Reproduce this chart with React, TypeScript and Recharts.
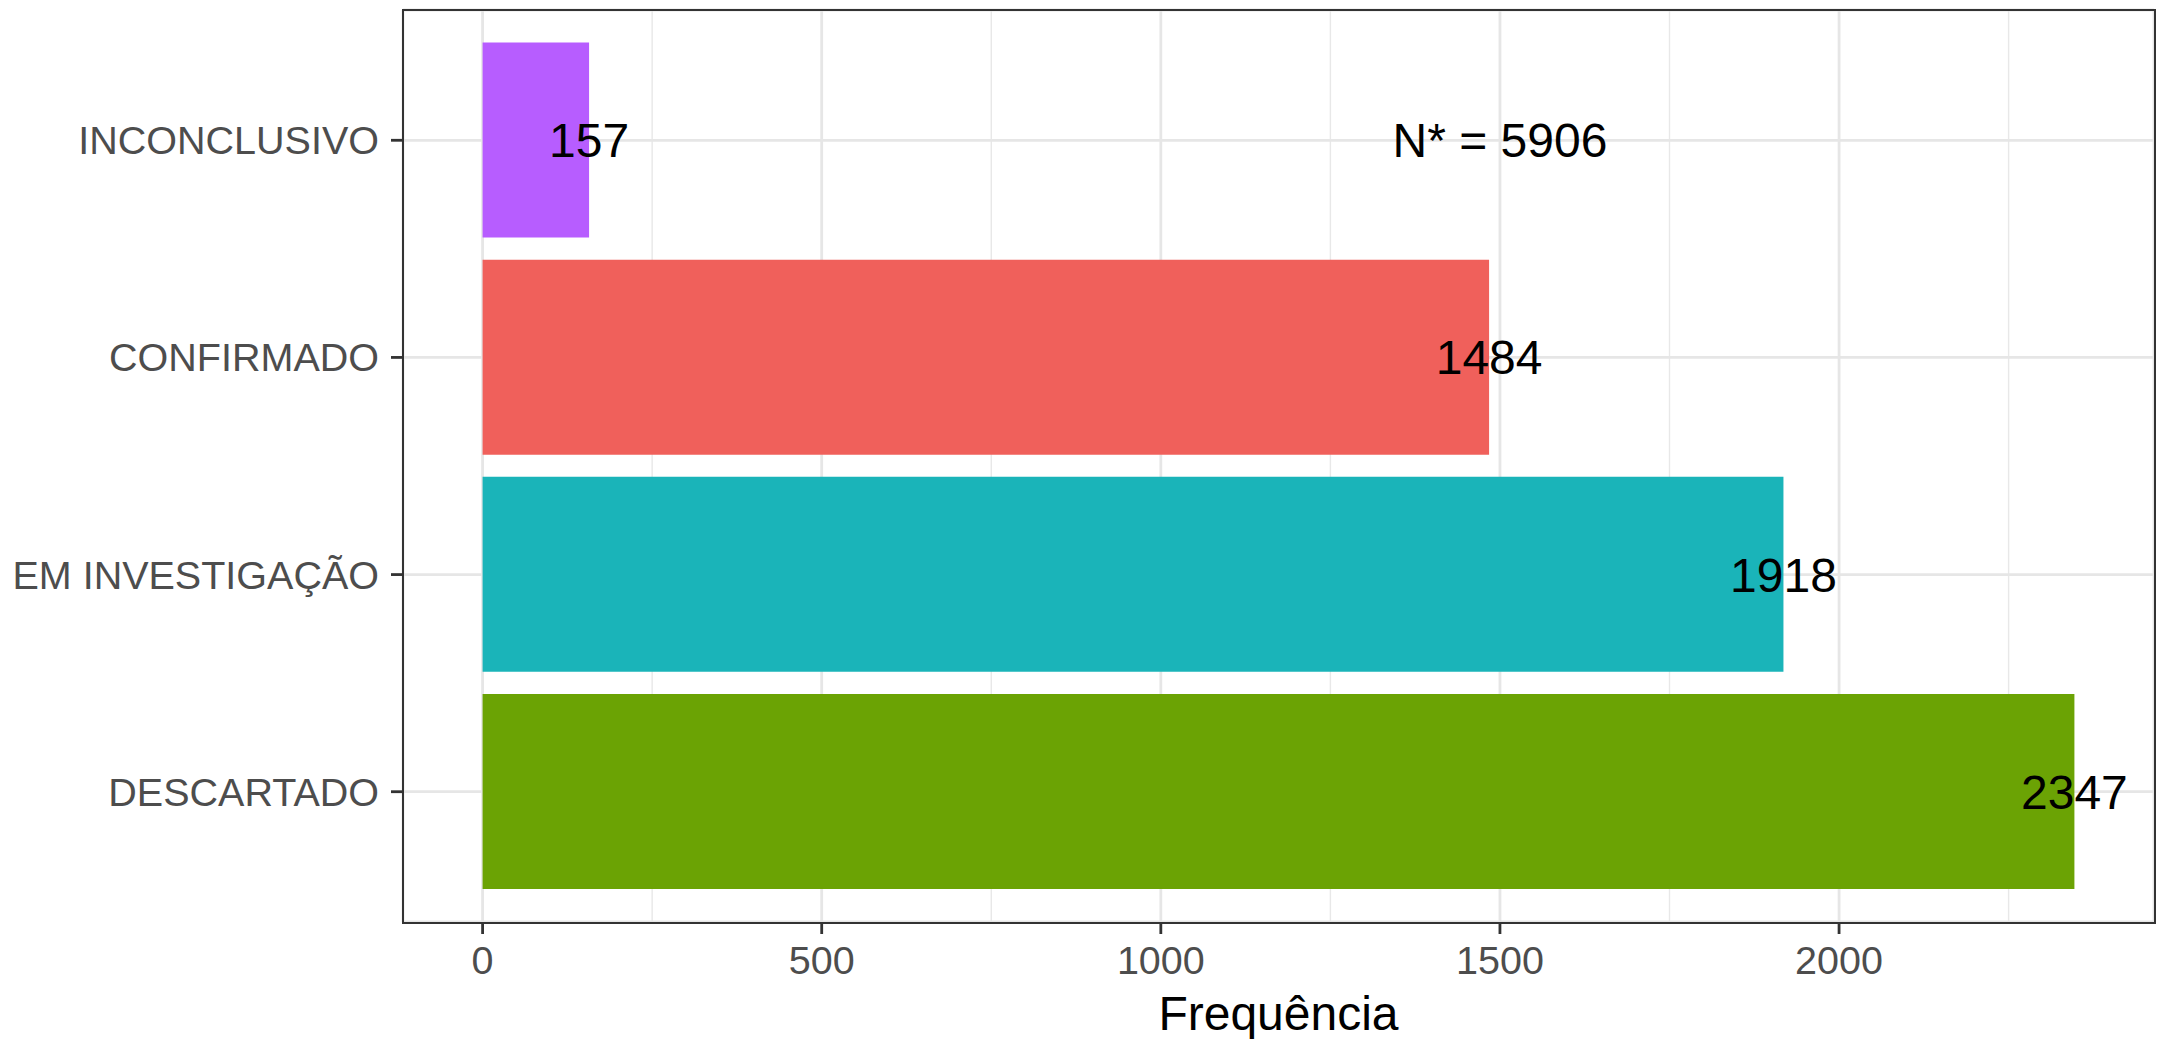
import React from "react";
import {
  BarChart,
  Bar,
  XAxis,
  YAxis,
  CartesianGrid,
  Cell,
  LabelList,
  ReferenceDot,
} from "recharts";

// ---- data ----
const categories = ["INCONCLUSIVO", "CONFIRMADO", "EM INVESTIGAÇÃO", "DESCARTADO"];
const frequencies = [157, 1484, 1918, 2347];
const barColors = ["#B75DFF", "#F0605B", "#1AB4B9", "#6BA304"];
const xTicks = [0, 500, 1000, 1500, 2000];
const xMinorTicks = [250, 750, 1250, 1750, 2250];
const annotationX = 1500;
const annotationCategory = "INCONCLUSIVO";
const annotationText = "N* = 5906";
const xTitle = "Frequência";

const data = categories.map((c, i) => ({ category: c, value: frequencies[i] }));

const maxVal = Math.max(...frequencies);
const expand = maxVal * 0.05;
const xDomain: [number, number] = [-expand, maxVal + expand];

const W = 2159;
const H = 1039;
const LEFT = 403;
const TOP = 10;
const RIGHT = 2154;
const BOTTOM = 922;
const FONT = "'Liberation Sans', Arial, sans-serif";

const BarValueLabel = (props: any) => {
  const { x, y, width, height, value } = props;
  return (
    <text
      x={Number(x) + Number(width)}
      y={Number(y) + Number(height) / 2}
      dy="0.36em"
      textAnchor="middle"
      fontSize={48}
      fontFamily={FONT}
      fill="#000000"
    >
      {value}
    </text>
  );
};

export default function App() {
  const plotH = BOTTOM - TOP;
  const band = plotH / (categories.length + 0.2);
  const pad = band * 0.1;
  return (
    <div
      style={{
        position: "absolute",
        left: 0,
        top: 0,
        width: W,
        height: H,
        background: "#ffffff",
        fontFamily: FONT,
      }}
    >
      <BarChart
        width={W}
        height={H}
        data={data}
        layout="vertical"
        margin={{ top: TOP, right: W - RIGHT, bottom: 0, left: 0 }}
        barCategoryGap="5%"
      >
        <CartesianGrid
          horizontal={false}
          vertical={true}
          verticalValues={xMinorTicks}
          stroke="#E8E8E8"
          strokeWidth={1.4}
        />
        <CartesianGrid stroke="#E6E6E6" strokeWidth={2.8} />
        <XAxis
          type="number"
          dataKey="value"
          domain={xDomain}
          allowDataOverflow
          ticks={xTicks}
          interval={0}
          axisLine={false}
          tickLine={{ stroke: "#333333", strokeWidth: 2.8 }}
          tickSize={12}
          tickMargin={12}
          height={H - BOTTOM}
          tick={{ fill: "#4D4D4D", fontSize: 39.5, fontFamily: FONT }}
          label={{
            value: xTitle,
            position: "insideBottom",
            offset: 9,
            fill: "#000000",
            fontSize: 48,
            fontFamily: FONT,
          }}
        />
        <YAxis
          type="category"
          dataKey="category"
          width={LEFT}
          padding={{ top: pad, bottom: pad }}
          axisLine={false}
          tickLine={{ stroke: "#333333", strokeWidth: 2.8 }}
          tickSize={12}
          tickMargin={12}
          interval={0}
          tick={{ fill: "#4D4D4D", fontSize: 39.5, fontFamily: FONT }}
        />
        <Bar dataKey="value" isAnimationActive={false}>
          {data.map((d, i) => (
            <Cell key={d.category} fill={barColors[i]} />
          ))}
          <LabelList dataKey="value" content={BarValueLabel} />
        </Bar>
        <ReferenceDot
          x={annotationX}
          y={annotationCategory}
          r={0}
          fill="none"
          stroke="none"
          label={{
            value: annotationText,
            position: "center",
            fill: "#000000",
            fontSize: 48,
            fontFamily: FONT,
          }}
        />
      </BarChart>
      <div
        style={{
          position: "absolute",
          left: LEFT - 1,
          top: TOP - 1,
          width: RIGHT - LEFT - 1,
          height: BOTTOM - TOP - 1,
          border: "2.8px solid #333333",
          pointerEvents: "none",
        }}
      />
    </div>
  );
}
